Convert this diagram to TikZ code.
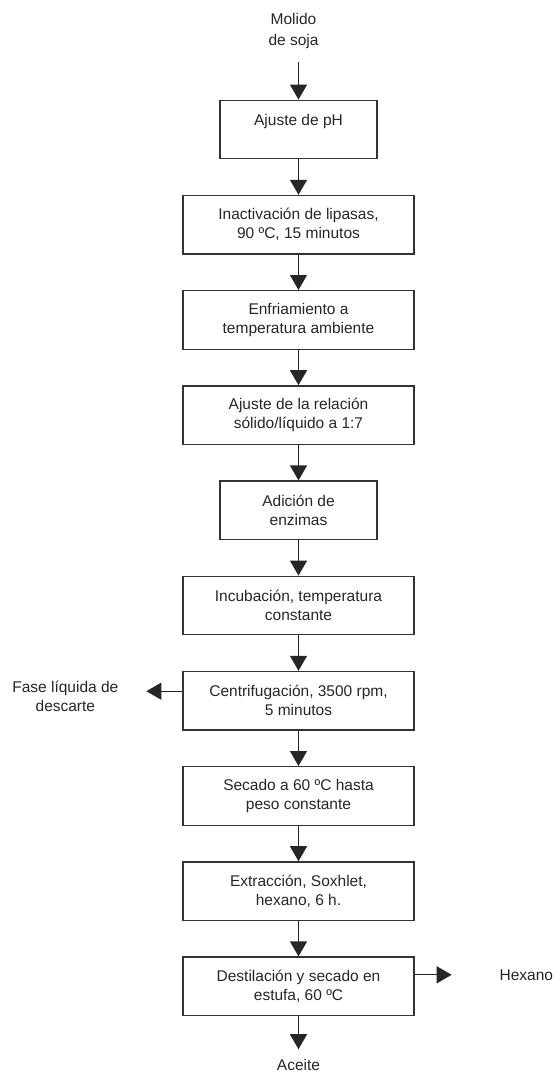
\documentclass[tikz,border=0pt]{standalone}
\usepackage{fontspec}
\setmainfont{Liberation Sans}
\usepackage{tikz}
\usetikzlibrary{positioning,arrows.meta}

\tikzset{
  paso/.style={draw=black!80, line width=1.3pt, minimum width=231pt, minimum height=58.5pt,
    align=center, text=black!85, inner sep=2pt},
  pasocorto/.style={paso, minimum width=157pt},
  etiq/.style={align=center, text=black!85, inner sep=0pt, outer sep=0pt},
  flecha/.style={-{Triangle[width=17pt,length=15pt]}, line width=1.3pt, draw=black!85},
}

\begin{document}
\begin{tikzpicture}[x=1pt, y=1pt, node distance=35.4pt,
    font=\fontsize{15.5}{19}\selectfont]
  \useasboundingbox (0,0) rectangle (554,-1073);
  \node[pasocorto] (ph) at (298.5,-129.5) {Ajuste de pH\\\mbox{}};
  \node[etiq, above=51pt of ph, xshift=-5pt, font=\fontsize{15.5}{21}\selectfont] (molido) {Molido\\de soja};
  \node[paso, below=of ph] (inact) {Inactivación de lipasas,\\90 ºC, 15 minutos};
  \node[paso, below=of inact] (enfr) {Enfriamiento a\\temperatura ambiente};
  \node[paso, below=of enfr] (rel) {Ajuste de la relación\\sólido/líquido a 1:7};
  \node[pasocorto, below=of rel] (enz) {Adición de\\enzimas};
  \node[paso, below=of enz] (incub) {Incubación, temperatura\\constante};
  \node[paso, below=of incub] (centr) {Centrifugación, 3500 rpm,\\5 minutos};
  \node[paso, below=of centr] (secado) {Secado a 60 ºC hasta\\peso constante};
  \node[paso, below=of secado] (extr) {Extracción, Soxhlet,\\hexano, 6 h.};
  \node[paso, below=of extr] (destil) {Destilación y secado en\\estufa, 60 ºC};
  \node[etiq, below=43pt of destil] (aceite) {Aceite};
  % salidas laterales
  \coordinate[left=36pt of centr.west, yshift=9.5pt] (fasefin);
  \node[etiq, left=28pt of fasefin, yshift=-5pt] (fase) {Fase líquida de\\descarte};
  \coordinate[right=37pt of destil.east, yshift=11.5pt] (hexfin);
  \node[etiq, right=48pt of hexfin] (hexano) {Hexano};

  \draw[flecha, shorten <=13pt] (molido.south -| ph.north) -- (ph);
  \foreach \a/\b in {ph/inact, inact/enfr, enfr/rel, rel/enz, enz/incub,
                     incub/centr, centr/secado, secado/extr, extr/destil}
    \draw[flecha] (\a) -- (\b);
  \draw[flecha, shorten >=10pt] (destil) -- (aceite);
  \draw[flecha] (centr.west |- fasefin) -- (fasefin);
  \draw[flecha] (destil.east |- hexfin) -- (hexfin);
\end{tikzpicture}
\end{document}
